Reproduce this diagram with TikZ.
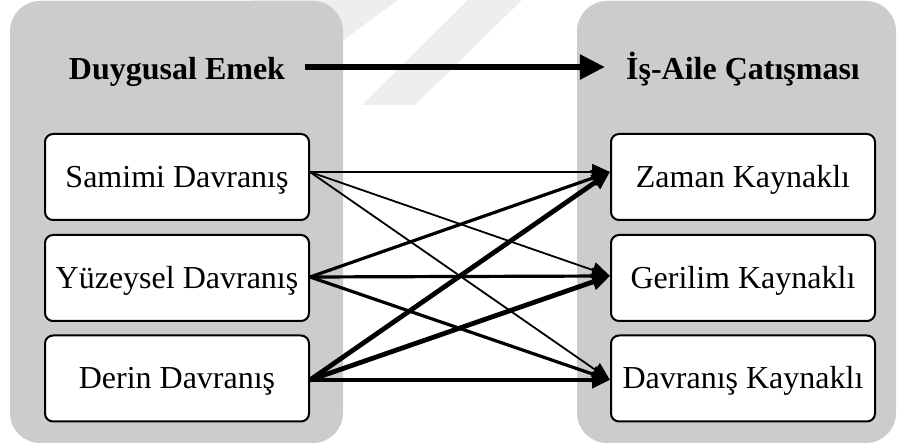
\documentclass[tikz,border=0pt]{standalone}
\usepackage{fontspec}
\setmainfont{Liberation Serif}
\usetikzlibrary{arrows.meta}
\definecolor{panelgray}{RGB}{204,204,204}
\definecolor{wmgray}{RGB}{238,238,238}
\tikzset{
  panel/.style={fill=panelgray, rounded corners=30pt},
  watermark/.style={fill=wmgray},
  boxnode/.style={draw=black, line width=2pt, fill=white, rounded corners=8pt,
    minimum width=264pt, minimum height=86pt, inner sep=0pt,
    text height=21pt, text depth=0pt, font=\fontsize{32}{38}\selectfont},
  titlenode/.style={inner sep=0pt, text height=21pt, text depth=0pt,
    font=\fontsize{32}{38}\selectfont\bfseries},
  link/.style={-{Triangle[length=18pt,width=16pt]}, line join=miter},
  linkS/.style={link, line width=1.8pt},
  linkY/.style={link, line width=3.2pt},
  linkD/.style={link, line width=4.8pt},
  mainlink/.style={-{Triangle[length=25pt,width=24pt]}, line width=5.5pt}
}
\begin{document}
\begin{tikzpicture}[x=1pt,y=-1pt]
\useasboundingbox (0,0) rectangle (898,446);
% faint watermark
\fill[watermark] (250,0) -- (398,0) -- (330,50) -- (250,50) -- cycle;
\fill[watermark] (468,0) -- (522,0) -- (415,105) -- (362,105) -- cycle;
% panels
\fill[panel] (10,1) rectangle (343,443);
\fill[panel] (577,1) rectangle (896,443);
% titles
\node[titlenode] (de) at (177,69) {Duygusal Emek};
\node[titlenode] (ia) at (743,69) {İş-Aile Çatışması};
\draw[mainlink] ([xshift=20pt,yshift=2pt]de.east) -- ([xshift=-21pt,yshift=2pt]ia.west);
% boxes
\node[boxnode] (s) at (177,177) {Samimi Davranış};
\node[boxnode] (y) at (177,278) {Yüzeysel Davranış};
\node[boxnode] (d) at (177,378.5) {Derin Davranış};
\node[boxnode] (z) at (743,177) {Zaman Kaynaklı};
\node[boxnode] (g) at (743,278) {Gerilim Kaynaklı};
\node[boxnode] (b) at (743,378.5) {Davranış Kaynaklı};
% connection points
\coordinate (sO) at ([yshift=5pt]s.east);
\coordinate (yO) at ([yshift=1pt]y.east);
\coordinate (dO) at ([yshift=-1.5pt]d.east);
\coordinate (zI) at ([yshift=5pt]z.west);
\coordinate (gI) at ([yshift=2pt]g.west);
\coordinate (bI) at ([yshift=-1.5pt]b.west);
% connectors
\draw[linkS] (sO) -- (zI);
\draw[linkS] (sO) -- (gI);
\draw[linkS] (sO) -- (bI);
\draw[linkY] (yO) -- (zI);
\draw[linkY] (yO) -- (gI);
\draw[linkY] (yO) -- (bI);
\draw[linkD] (dO) -- (zI);
\draw[linkD] (dO) -- (gI);
\draw[linkD] (dO) -- (bI);
\end{tikzpicture}
\end{document}
